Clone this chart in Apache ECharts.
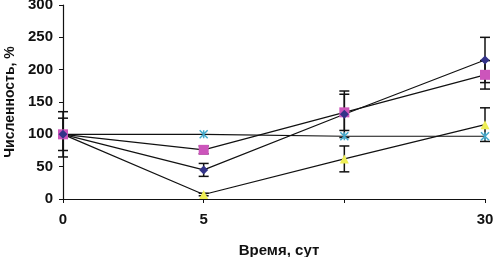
<!DOCTYPE html>
<html>
<head>
<meta charset="utf-8">
<script src="https://cdn.jsdelivr.net/npm/echarts@6/dist/echarts.min.js"></script>
<style>
html,body{margin:0;padding:0;background:#fff}
#chart{width:495px;height:257px}
</style>
</head>
<body>
<div id="chart"></div>
<script>
var days = ['0', '5', '', '30'];

var navy = [100, 45, 131, 215];
var navyLow = [65, 35, 95, 180];
var navyHigh = [135, 55, 167, 250];

var magenta = [100, 76, 134, 192];
var magentaLow = [75, 70, 106, 170];
var magentaHigh = [125, 82, 162, 214];

var yellow = [100, 7, 62, 115];
var yellowLow = [95, 5, 42, 89];
var yellowHigh = [105, 9, 82, 141];

var cyan = [100, 100, 97, 97];

var yTicks = [0, 50, 100, 150, 200, 250, 300];

function errData(low, high) {
	var out = [];
	for (var i = 0; i < low.length; i++) out.push([i, low[i], high[i]]);
	return out;
}

function errSeries(low, high) {
	return {
		type: 'custom',
		silent: true,
		z: 1,
		data: errData(low, high),
		renderItem: function (params, api) {
			var lo = api.coord([api.value(0), api.value(1)]);
			var hi = api.coord([api.value(0), api.value(2)]);
			var w = 5;
			var st = {stroke: '#111', lineWidth: 1.5};
			return {
				type: 'group',
				children: [
					{type: 'line', shape: {x1: lo[0], y1: lo[1], x2: hi[0], y2: hi[1]}, style: st},
					{type: 'line', shape: {x1: lo[0] - w, y1: lo[1], x2: lo[0] + w, y2: lo[1]}, style: st},
					{type: 'line', shape: {x1: hi[0] - w, y1: hi[1], x2: hi[0] + w, y2: hi[1]}, style: st}
				]
			};
		}
	};
}

function lineSeries(data, symbol, size, color, extra) {
	var s = {
		type: 'line',
		data: data,
		symbol: symbol,
		symbolSize: size,
		showAllSymbol: true,
		z: 3,
		lineStyle: {color: '#111', width: 1.2},
		itemStyle: {color: color, opacity: 1}
	};
	if (extra) s.itemStyle = extra;
	return s;
}

var chart = echarts.init(document.getElementById('chart'));
chart.setOption({
	animation: false,
	grid: {left: 63, right: 10, top: 5, bottom: 58, containLabel: false, outerBoundsMode: 'none'},
	xAxis: {
		type: 'category',
		data: days,
		boundaryGap: false,
		name: 'Время, сут',
		nameLocation: 'middle',
		nameGap: 44,
		nameTextStyle: {fontFamily: 'Liberation Sans', fontWeight: 'bold', fontSize: 15, color: '#111', padding: [0, 0, 0, 10]},
		axisLine: {lineStyle: {color: '#111', width: 1.2}},
		axisTick: {alignWithLabel: true, length: 4, lineStyle: {color: '#111'}},
		axisLabel: {fontFamily: 'Liberation Sans', fontWeight: 'bold', fontSize: 15, color: '#111', margin: 13}
	},
	yAxis: {
		type: 'value',
		min: yTicks[0],
		max: yTicks[yTicks.length - 1],
		interval: 50,
		name: 'Численность, %',
		nameLocation: 'middle',
		nameGap: 45,
		nameTextStyle: {fontFamily: 'Liberation Sans', fontWeight: 'bold', fontSize: 14, color: '#111'},
		axisLine: {show: true, lineStyle: {color: '#111', width: 1.2}},
		axisTick: {show: true, length: 4, lineStyle: {color: '#111'}},
		splitLine: {show: false},
		axisLabel: {fontFamily: 'Liberation Sans', fontWeight: 'bold', fontSize: 15, color: '#111', margin: 10}
	},
	series: [
		errSeries(navyLow, navyHigh),
		errSeries(magentaLow, magentaHigh),
		errSeries(yellowLow, yellowHigh),
		lineSeries(cyan, 'path://M0,0L10,10M10,0L0,10M5,0L5,10', 8, '#66cccc',
			{color: '#66cccc', borderColor: '#44aacc', borderWidth: 1.5}),
		lineSeries(yellow, 'triangle', 9, '#eeee55'),
		lineSeries(magenta, 'rect', 10, '#cc55bb'),
		lineSeries(navy, 'diamond', 9, '#333388')
	]
});
</script>
</body>
</html>
